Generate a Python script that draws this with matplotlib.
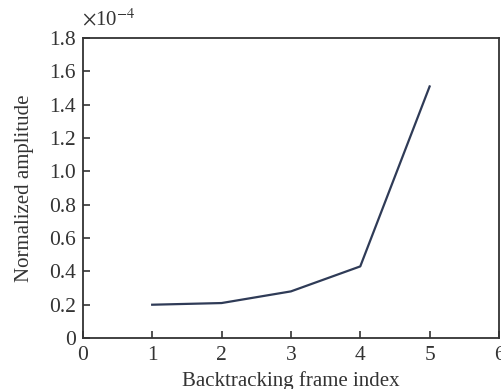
import matplotlib
matplotlib.use("Agg")
import matplotlib.pyplot as plt

# datos (amplitud en unidades de 1e-4)
frames = [1, 2, 3, 4, 5]
amplitud = [0.20, 0.21, 0.28, 0.43, 1.51]
x_ticks = [0, 1, 2, 3, 4, 5, 6]
y_ticks = [0, 0.2, 0.4, 0.6, 0.8, 1.0, 1.2, 1.4, 1.6, 1.8]
y_labels = ["0", "0.2", "0.4", "0.6", "0.8", "1.0", "1.2", "1.4", "1.6", "1.8"]

plt.rcParams["font.family"] = ["Liberation Serif", "DejaVu Serif"]
plt.rcParams["mathtext.fontset"] = "stix"

fig = plt.figure(figsize=(5.02, 3.89), dpi=100)
ax = fig.add_axes([0.165, 0.131, 0.829, 0.771])

ax.plot(frames, amplitud, color="#2f3b57", linewidth=1.6)

ax.set_xlim(0, 6)
ax.set_ylim(0, 1.8)
ax.set_xticks(x_ticks)
ax.set_yticks(y_ticks)
ax.set_yticklabels(y_labels)
ax.tick_params(direction="in", length=5, width=1.2, labelsize=15.5,
               top=False, right=False, colors="#333333")
ax.tick_params(axis="x", pad=6)
ax.tick_params(axis="y", pad=5)
for s in ax.spines.values():
    s.set_linewidth(1.3)
    s.set_color("#333333")

ax.set_xlabel("Backtracking frame index", fontsize=15, labelpad=4, color="#333333")
ax.set_ylabel("Normalized amplitude", fontsize=15, labelpad=11, color="#333333")
ax.text(-0.003, 1.025, r"$\times$10$^{-4}$", transform=ax.transAxes, fontsize=15,
        ha="left", va="bottom", color="#333333")

plt.savefig("out.png", dpi=100)
